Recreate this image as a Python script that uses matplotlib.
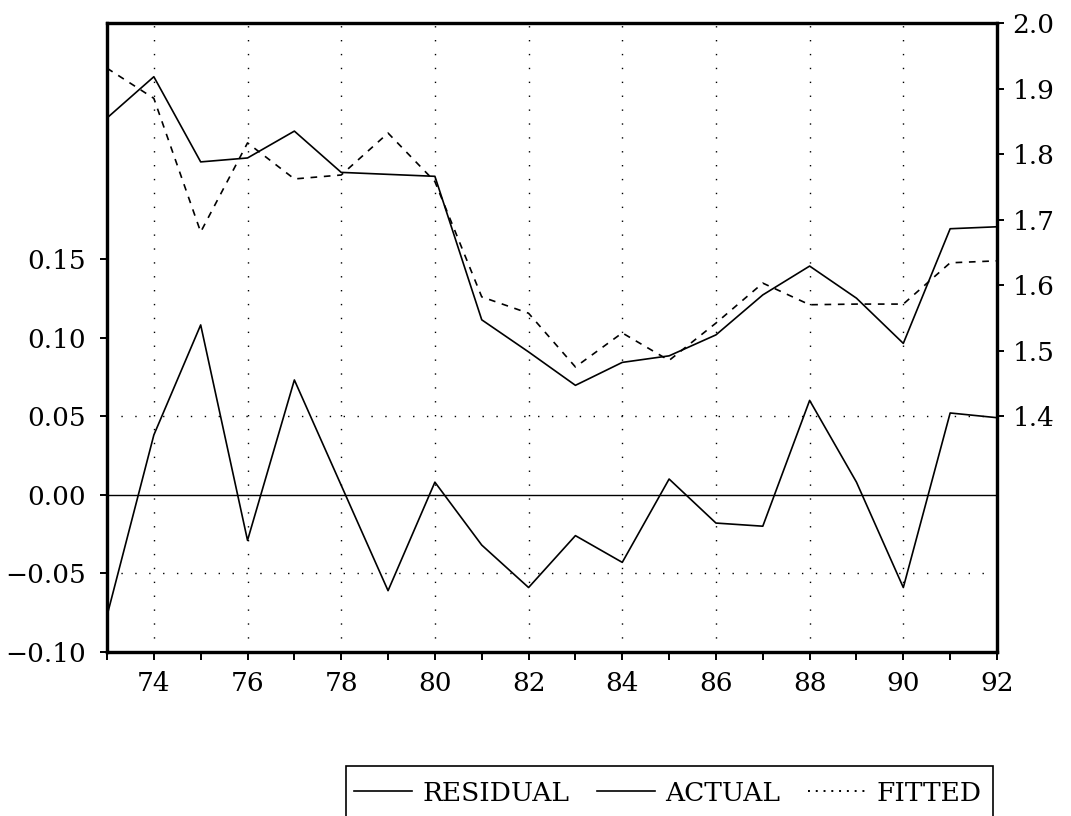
import numpy as np
import matplotlib
matplotlib.use("Agg")
import matplotlib.pyplot as plt
from matplotlib.lines import Line2D
from matplotlib.patches import Rectangle

plt.rcParams['font.family'] = ['DejaVu Serif']
plt.rcParams['font.size'] = 19

years = np.arange(73, 93)
actual = [1.855, 1.918, 1.788, 1.794, 1.835, 1.772, 1.769, 1.766, 1.547, 1.498,
          1.447, 1.482, 1.492, 1.524, 1.585, 1.629, 1.580, 1.511, 1.686, 1.689]
fitted = [1.931, 1.885, 1.681, 1.817, 1.762, 1.768, 1.832, 1.758, 1.582, 1.557,
          1.475, 1.527, 1.485, 1.542, 1.603, 1.570, 1.571, 1.571, 1.634, 1.637]
residual = [-0.077, 0.038, 0.108, -0.029, 0.073, 0.006, -0.061, 0.008, -0.032, -0.059,
            -0.026, -0.043, 0.010, -0.018, -0.020, 0.060, 0.008, -0.059, 0.052, 0.049]

left_ticks = [-0.10, -0.05, 0.00, 0.05, 0.10, 0.15]
right_ticks = [1.4, 1.5, 1.6, 1.7, 1.8, 1.9, 2.0]
year_labels = [str(y) if y % 2 == 0 else '' for y in years]

W, H = 1071, 816
fig = plt.figure(figsize=(W / 100, H / 100), dpi=100)
ax = fig.add_axes([107 / W, 1 - 652 / H, (997 - 107) / W, (652 - 23) / H])
ax2 = ax.twinx()

# residual on the left scale
ax.plot(years, residual, color='black', lw=1.2, zorder=3)
ax.axhline(0, color='black', lw=1.0)
ax.set_xlim(73, 92)
ax.set_ylim(-0.10, 0.30)
ax.set_yticks(left_ticks)
ax.set_yticklabels([f"{v:.2f}".replace('-', '\u2212') for v in left_ticks])
ax.set_xticks(years)
ax.set_xticklabels(year_labels)

# dotted grid
for y in years:
    if y % 2 == 0 and 73 < y < 92:
        ax.axvline(y, color='black', lw=1.0, ls=(0, (1, 9)), zorder=1)
for v in [0.05, -0.05]:
    ax.axhline(v, color='black', lw=1.0, ls=(0, (1, 9)), zorder=1)

# actual and fitted on the right scale
ax2.plot(years, actual, color='black', lw=1.2)
ax2.plot(years, fitted, color='black', lw=1.2, ls=(0, (4, 4)))
ax2.set_ylim(1.04, 2.0)
ax2.set_yticks(right_ticks)
ax2.set_yticklabels([f"{v:.1f}" for v in right_ticks])

for a in (ax, ax2):
    for s in a.spines.values():
        s.set_linewidth(2.3)
ax.tick_params(axis='x', direction='out', length=6, width=1.4, pad=8)
ax.tick_params(axis='y', direction='out', length=5, width=1.4, pad=10)
ax2.tick_params(axis='y', direction='out', length=5, width=1.4, pad=6)

# legend under the plot
handles = [Line2D([], [], color='black', lw=1.2),
           Line2D([], [], color='black', lw=1.2),
           Line2D([], [], color='black', lw=1.4, ls=(0, (1, 3)))]
fig.legend(handles, ['RESIDUAL', 'ACTUAL', 'FITTED'], ncol=3, frameon=False,
           loc='upper left', bbox_to_anchor=(343 / W, 1 - 770 / H),
           borderaxespad=0, handlelength=2.2, handletextpad=0.4,
           columnspacing=1.05, fontsize=19)
fig.patches.append(Rectangle((346 / W, -0.02), (993 - 346) / W, (816 - 766) / H + 0.02,
                             transform=fig.transFigure, fill=False, lw=1.2,
                             edgecolor='black'))

fig.savefig('out.png', dpi=100)
